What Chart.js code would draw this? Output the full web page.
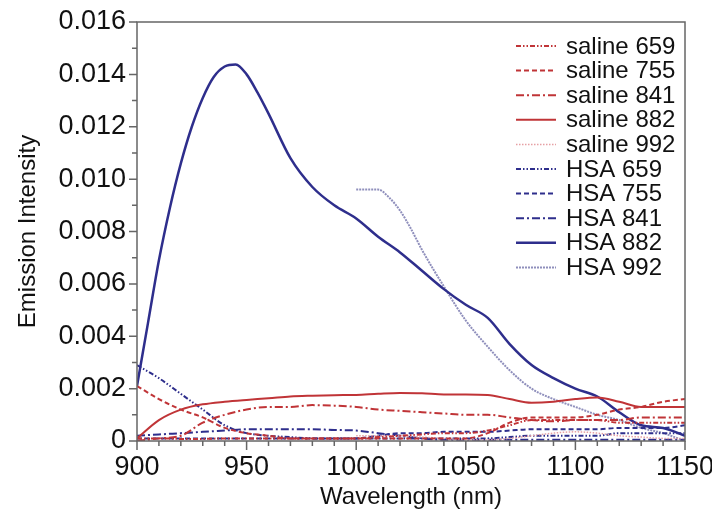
<!DOCTYPE html>
<html>
<head>
<meta charset="utf-8">
<script src="https://cdn.jsdelivr.net/npm/chart.js@4"></script>
<style>
html,body{margin:0;padding:0;background:#fff;}
canvas{display:block;}
</style>
</head>
<body>
<canvas id="c" width="712" height="512"></canvas>
<script>
// ---- data ----
const wl = [900,910,920,930,940,950,960,970,980,990,1000,1010,1020,1030,1040,1050,1060,1070,1080,1090,1100,1110,1120,1130,1140,1150];
const saline659 = [0.0001,0.0001,0.00008,0.00008,0.0001,0.0001,0.0001,0.0001,0.0001,0.0001,0.0001,0.00015,0.0002,0.00025,0.0003,0.0003,0.0004,0.0006,0.0008,0.0008,0.0008,0.0008,0.0007,0.0007,0.0007,0.0007];
const saline755 = [0.0021,0.0016,0.0012,0.0009,0.0005,0.0003,0.0002,0.0001,0.0001,0.0001,0.0001,0.0001,0.0001,0.0001,0.0001,0.0001,0.0003,0.0007,0.0009,0.0009,0.0009,0.001,0.0012,0.0013,0.0015,0.0016];
const saline841 = [0.0,0.0001,0.0002,0.0007,0.001,0.0012,0.0013,0.0013,0.00137,0.00135,0.0013,0.0012,0.00115,0.0011,0.00105,0.001,0.001,0.0009,0.0008,0.00075,0.0008,0.0008,0.0008,0.0009,0.0009,0.0009];
const saline882 = [0.0001,0.0008,0.0012,0.0014,0.0015,0.00157,0.00163,0.0017,0.00173,0.00175,0.00176,0.0018,0.00183,0.00182,0.00178,0.00178,0.00176,0.0016,0.00146,0.0015,0.0016,0.00166,0.0015,0.0013,0.0013,0.0013];
const wl992 = [1000,1010,1020,1030,1040,1050,1060,1070,1080,1090,1100,1110,1120,1130,1140,1150];
const saline992 = [0.0002,0.0002,0.0002,0.00015,0.0001,0.00005,0.00005,0.0001,0.0002,0.0003,0.00035,0.0003,0.0002,0.00015,0.0001,0.0001];
const hsa659 = [0.0029,0.0024,0.0018,0.0012,0.0006,0.0003,0.0002,0.00015,0.0001,0.0001,0.0001,0.0001,0.0001,0.0001,0.0001,0.0001,0.0001,0.00015,0.0002,0.0002,0.0002,0.0002,0.0003,0.0003,0.0003,0.0003];
const hsa755 = [0.0001,0.0001,0.0001,0.0001,0.0001,0.0001,0.0001,0.0001,0.0001,0.0001,0.0001,0.0002,0.0003,0.0003,0.00035,0.00035,0.00035,0.0004,0.00045,0.00045,0.00045,0.00045,0.0005,0.0005,0.0005,0.0006];
const hsa841 = [0.0002,0.00025,0.0003,0.00035,0.0004,0.00045,0.00045,0.00045,0.00045,0.00042,0.0004,0.0003,0.0002,0.0001,0.00005,0.00005,0.00005,0.00005,0.00005,0.00005,0.00005,0.00005,0.00005,0.00005,0.00005,0.00005];
const wl882 = [900,905,910,915,920,925,930,935,940,945,950,955,960,970,980,990,1000,1010,1020,1030,1040,1050,1060,1070,1080,1090,1100,1110,1120,1130,1140,1150];
const hsa882 = [0.0021,0.0045,0.0069,0.0089,0.0106,0.012,0.0131,0.0139,0.0143,0.01438,0.014,0.0133,0.0125,0.0108,0.0097,0.009,0.0085,0.0078,0.0072,0.0065,0.0058,0.0052,0.0047,0.0037,0.0029,0.0024,0.002,0.0017,0.0011,0.0006,0.0005,0.0002];
const wlH992 = [1000,1005,1010,1015,1020,1025,1030,1040,1050,1060,1070,1080,1090,1100,1110,1120,1130,1140,1150];
const hsa992 = [0.0096,0.0096,0.0096,0.0093,0.0088,0.0081,0.0073,0.0059,0.0046,0.0036,0.0027,0.002,0.0016,0.0013,0.001,0.0008,0.0005,0.0003,0.0];
const seriesLabels = ['saline 659','saline 755','saline 841','saline 882','saline 992','HSA 659','HSA 755','HSA 841','HSA 882','HSA 992'];
const xTicks = [900,950,1000,1050,1100,1150];
const yTicks = [0,0.002,0.004,0.006,0.008,0.010,0.012,0.014,0.016];

const RED = '#c03437', NAVY = '#2e2e8c', LRED = '#e6a0a4', LNAVY = '#8f8fbc';
const DDOT = [5,2,1.5,2,1.5,2], DASH = [5,3], DDASH = [8,3,2,3], DOT = [1.5,1.5], FINE = [2,1];
const pts = (xs, ys) => xs.map((x,i)=>({x:x,y:ys[i]}));
const mk = (label, xs, ys, color, dash, w) => ({label, data: pts(xs, ys), borderColor: color, backgroundColor: color,
  borderDash: dash, borderWidth: w, pointRadius: 0, tension: 0.4, cubicInterpolationMode: 'monotone', fill: false});

const datasets = [
  mk(seriesLabels[0], wl, saline659, RED, DDOT, 2),
  mk(seriesLabels[1], wl, saline755, RED, DASH, 2),
  mk(seriesLabels[2], wl, saline841, RED, DDASH, 2),
  mk(seriesLabels[3], wl, saline882, RED, [], 2),
  mk(seriesLabels[4], wl992, saline992, LRED, DOT, 1.5),
  mk(seriesLabels[5], wl, hsa659, NAVY, DDOT, 2),
  mk(seriesLabels[6], wl, hsa755, NAVY, DASH, 2),
  mk(seriesLabels[7], wl, hsa841, NAVY, DDASH, 2),
  mk(seriesLabels[8], wl882, hsa882, NAVY, [], 2.5),
  mk(seriesLabels[9], wlH992, hsa992, LNAVY, FINE, 2),
];

const FONT = '"Liberation Sans", Arial, Helvetica, sans-serif';
const FS = 24, TFS = 27;

const frameAndTicks = {
  id: 'frameAndTicks',
  afterDraw(chart) {
    const {ctx, chartArea: a, scales: {x, y}} = chart;
    ctx.save();
    ctx.strokeStyle = '#666';
    ctx.lineWidth = 1.5;
    ctx.setLineDash([]);
    ctx.strokeRect(a.left, a.top, a.right - a.left, a.bottom - a.top);
    ctx.beginPath();
    for (let k = 0; k <= 16; k++) {
      const py = y.getPixelForValue(k * 0.001);
      const len = (k % 2 === 0) ? 8 : 5;
      ctx.moveTo(a.left, py); ctx.lineTo(a.left - len, py);
    }
    for (let v = 900; v <= 1150; v += 10) {
      const px = x.getPixelForValue(v);
      const len = (v % 50 === 0) ? 9 : 5;
      ctx.moveTo(px, a.bottom); ctx.lineTo(px, a.bottom + len);
    }
    ctx.stroke();
    // legend
    const x0 = 516, x1 = 556, tx = 566, y0 = 46, dy = 24.6;
    ctx.font = FS + 'px ' + FONT;
    ctx.textBaseline = 'middle';
    ctx.fillStyle = '#111';
    chart.data.datasets.forEach((ds, i) => {
      const yy = y0 + i * dy;
      ctx.strokeStyle = ds.borderColor;
      ctx.lineWidth = ds.borderWidth;
      ctx.setLineDash(ds.borderDash || []);
      ctx.beginPath(); ctx.moveTo(x0, yy); ctx.lineTo(x1, yy); ctx.stroke();
      ctx.fillText(ds.label, tx, yy + 1);
    });
    ctx.restore();
  }
};

new Chart(document.getElementById('c'), {
  type: 'line',
  data: { datasets },
  options: {
    responsive: false,
    animation: false,
    layout: { padding: { top: 22, right: 27, left: 0, bottom: 0 } },
    plugins: { legend: { display: false }, tooltip: { enabled: false } },
    scales: {
      x: {
        type: 'linear', min: 900, max: 1150,
        afterBuildTicks: s => { s.ticks = xTicks.map(v => ({value: v})); },
        ticks: { font: { size: TFS, family: FONT }, color: '#111', padding: 10, maxRotation: 0,
          callback: v => String(v) },
        grid: { display: false, drawTicks: false },
        border: { display: false },
        title: { display: true, text: 'Wavelength (nm)', font: { size: FS, family: FONT }, color: '#111', padding: { top: 0, bottom: 0 } },
        afterFit: s => { s.height = 71; s.paddingLeft = 0; s.paddingRight = 0; }
      },
      y: {
        min: 0, max: 0.016,
        afterBuildTicks: s => { s.ticks = yTicks.map(v => ({value: v})); },
        ticks: { font: { size: TFS, family: FONT }, color: '#111', padding: 11,
          callback: v => v === 0 ? '0' : v.toFixed(3) },
        grid: { display: false, drawTicks: false },
        border: { display: false },
        title: { display: true, text: 'Emission Intensity', font: { size: FS, family: FONT }, color: '#111', padding: { top: 14, bottom: 0 } },
        afterFit: s => { s.width = 137; s.paddingTop = 0; s.paddingBottom = 0; }
      }
    }
  },
  plugins: [frameAndTicks]
});
</script>
</body>
</html>
